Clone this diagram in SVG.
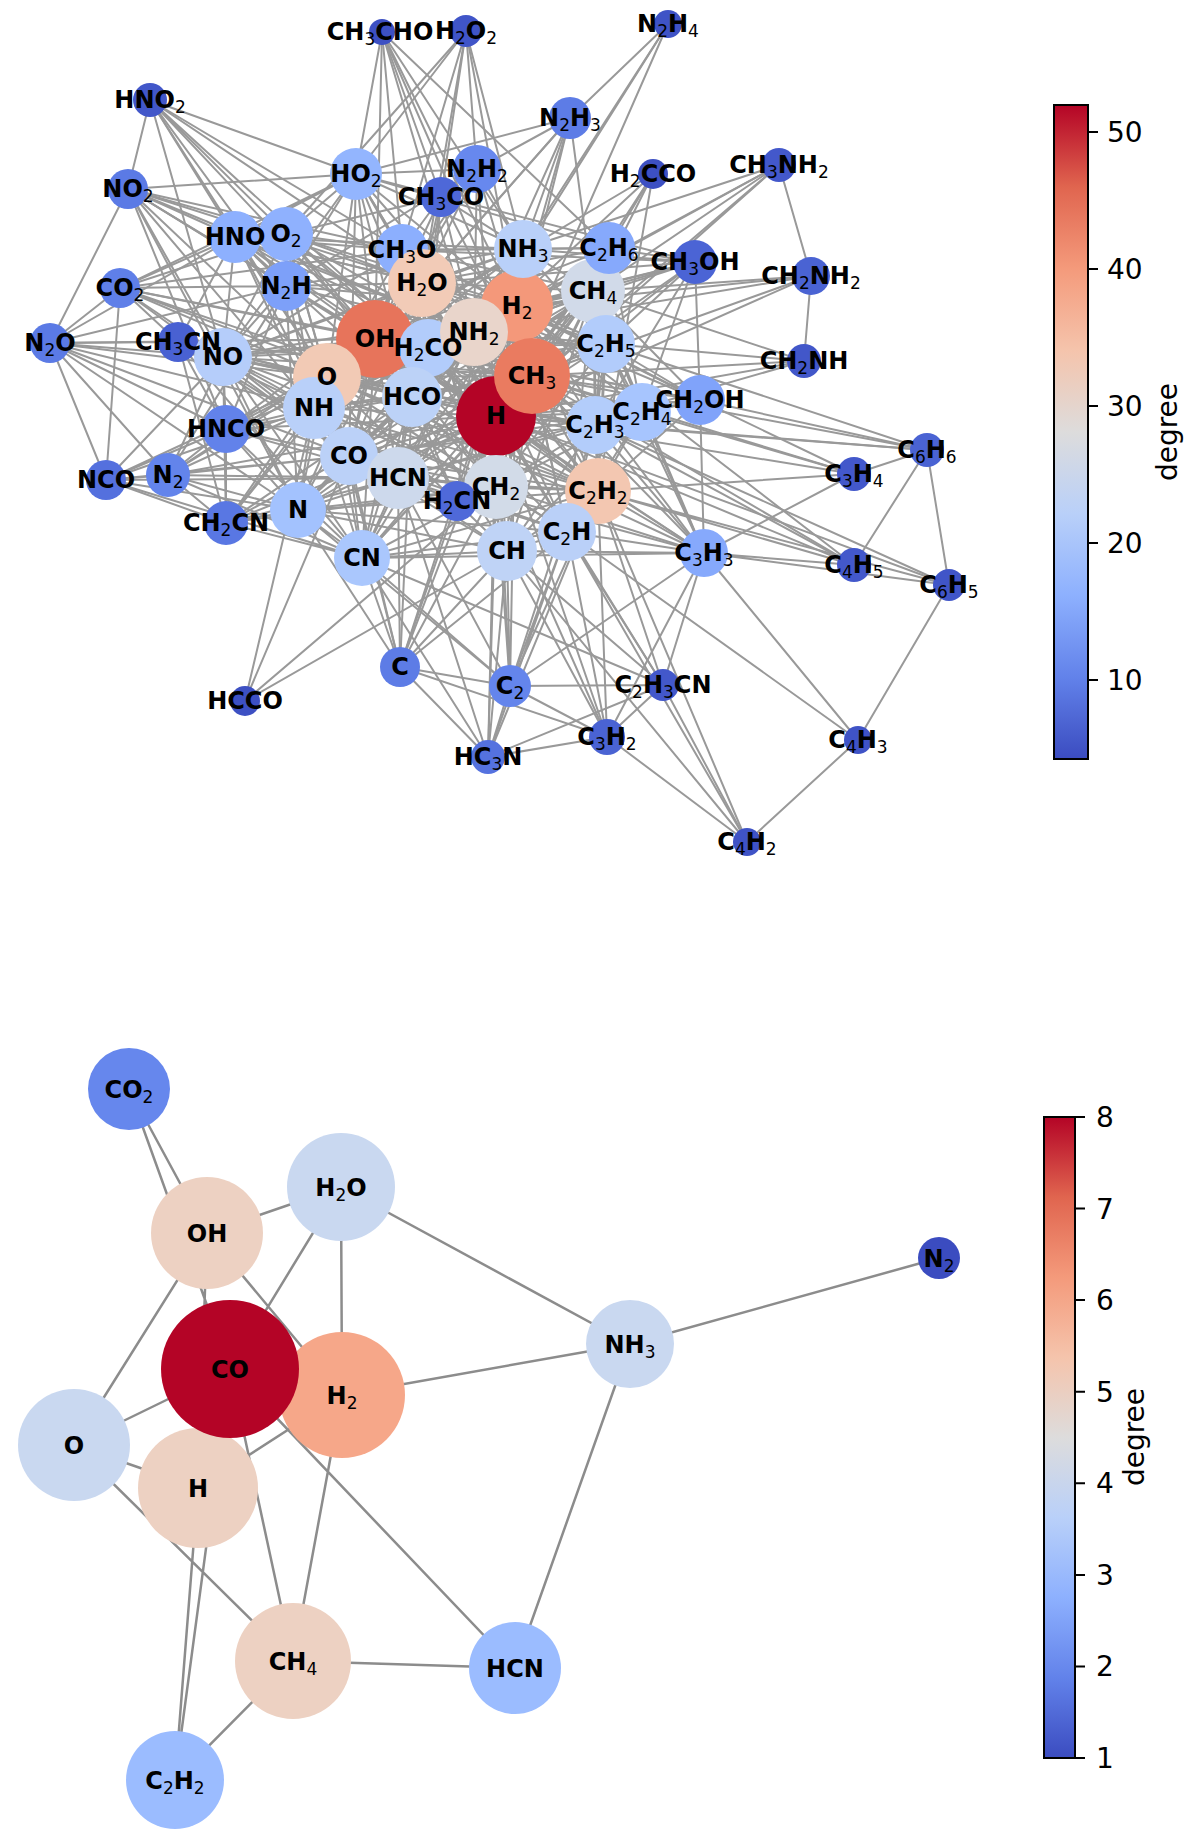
<svg xmlns="http://www.w3.org/2000/svg" width="1200" height="1841" viewBox="0 0 1200 1841">
<defs>
<linearGradient id="cw" x1="0" y1="1" x2="0" y2="0">
<stop offset="0" stop-color="#3b4cc0"/><stop offset="0.125" stop-color="#6282ea"/><stop offset="0.25" stop-color="#8db0fe"/><stop offset="0.375" stop-color="#b9d0f9"/><stop offset="0.5" stop-color="#dddcdc"/><stop offset="0.625" stop-color="#f5c4ac"/><stop offset="0.75" stop-color="#f49a7b"/><stop offset="0.875" stop-color="#e0654f"/><stop offset="1" stop-color="#b40426"/>
</linearGradient>
<style>
.e{stroke:#999;stroke-width:2;fill:none}
.eb{stroke:#8c8c8c;stroke-width:2.5;fill:none}
.lt{font-family:"DejaVu Sans",sans-serif;font-weight:bold;font-size:24px;text-anchor:middle;fill:#000}
.lt .s{font-weight:normal;font-size:17px}
.lb{font-family:"DejaVu Sans",sans-serif;font-weight:bold;font-size:24px;text-anchor:middle;fill:#000}
.lb .s{font-weight:normal;font-size:17px}
.tk{font-family:"DejaVu Sans",sans-serif;font-size:28px;fill:#000}
.cb{stroke:#000;stroke-width:2}
</style>
</defs>
<rect width="1200" height="1841" fill="#fff"/>
<g id="edges-top" class="e">
<path d="M496 416L532 376M496 416L517 306M496 416L474 332M496 416L422 283M496 416L375 339M496 416L428 348M496 416L327 377M496 416L314 408M496 416L412 397M496 416L349 456M496 416L398 478M496 416L496 487M496 416L457 501M496 416L598 491M496 416L567 532M496 416L507 551M496 416L362 558M496 416L298 510M496 416L595 425M496 416L642 412M496 416L700 400M496 416L606 344M496 416L593 291M496 416L609 248M496 416L695 262M496 416L523 249M496 416L402 250M496 416L286 234M496 416L235 237M496 416L286 286M496 416L356 174M496 416L441 197M496 416L477 169M496 416L570 118M496 416L668 24M496 416L466 31M496 416L382 32M496 416L150 100M496 416L128 189M496 416L120 288M496 416L178 342M496 416L223 357M496 416L226 429M496 416L226 523M496 416L653 174M496 416L779 165M496 416L811 276M496 416L804 361M496 416L927 450M496 416L854 474M496 416L704 553M496 416L854 565M496 416L949 585M496 416L400 667M496 416L510 686M496 416L488 757M496 416L663 685M496 416L607 737M496 416L168 475"/>
<path d="M532 376L517 306M532 376L474 332M532 376L422 283M532 376L375 339M532 376L428 348M532 376L327 377M532 376L314 408M532 376L412 397M532 376L349 456M532 376L398 478M532 376L496 487M532 376L598 491M532 376L567 532M532 376L507 551M532 376L595 425M532 376L642 412M532 376L700 400M532 376L606 344M532 376L593 291M532 376L609 248M532 376L695 262M532 376L523 249M532 376L402 250M532 376L356 174M532 376L441 197M532 376L382 32M532 376L223 357M532 376L178 342M532 376L653 174M532 376L779 165M532 376L811 276M532 376L804 361M532 376L927 450M532 376L854 474M532 376L704 553M532 376L854 565M532 376L298 510M532 376L362 558M532 376L286 234M532 376L235 237M532 376L457 501"/>
<path d="M375 339L517 306M375 339L474 332M375 339L422 283M375 339L428 348M375 339L327 377M375 339L314 408M375 339L412 397M375 339L349 456M375 339L398 478M375 339L496 487M375 339L598 491M375 339L567 532M375 339L507 551M375 339L362 558M375 339L298 510M375 339L595 425M375 339L642 412M375 339L700 400M375 339L606 344M375 339L593 291M375 339L609 248M375 339L695 262M375 339L523 249M375 339L402 250M375 339L286 234M375 339L235 237M375 339L286 286M375 339L356 174M375 339L441 197M375 339L477 169M375 339L466 31M375 339L382 32M375 339L150 100M375 339L128 189M375 339L120 288M375 339L50 343M375 339L178 342M375 339L223 357M375 339L226 429M375 339L226 523M375 339L653 174M375 339L704 553M375 339L457 501M375 339L570 118M375 339L168 475"/>
<path d="M517 306L474 332M517 306L422 283M517 306L327 377M517 306L314 408M517 306L412 397M517 306L349 456M517 306L398 478M517 306L496 487M517 306L598 491M517 306L567 532M517 306L507 551M517 306L362 558M517 306L298 510M517 306L595 425M517 306L642 412M517 306L606 344M517 306L593 291M517 306L609 248M517 306L695 262M517 306L523 249M517 306L402 250M517 306L356 174M517 306L286 286M517 306L477 169M517 306L570 118M517 306L466 31M517 306L382 32M517 306L779 165M517 306L811 276M517 306L704 553M517 306L854 565M517 306L400 667M517 306L510 686M517 306L457 501M517 306L286 234M517 306L428 348M517 306L700 400M517 306L235 237M517 306L223 357"/>
<path d="M327 377L422 283M327 377L474 332M327 377L428 348M327 377L314 408M327 377L412 397M327 377L349 456M327 377L398 478M327 377L496 487M327 377L598 491M327 377L567 532M327 377L507 551M327 377L362 558M327 377L298 510M327 377L595 425M327 377L642 412M327 377L606 344M327 377L593 291M327 377L523 249M327 377L402 250M327 377L286 234M327 377L235 237M327 377L286 286M327 377L356 174M327 377L150 100M327 377L128 189M327 377L120 288M327 377L50 343M327 377L178 342M327 377L223 357M327 377L226 429M327 377L106 480M327 377L168 475M327 377L226 523M327 377L400 667M327 377L704 553"/>
<path d="M422 283L474 332M422 283L314 408M422 283L412 397M422 283L349 456M422 283L398 478M422 283L496 487M422 283L598 491M422 283L567 532M422 283L507 551M422 283L362 558M422 283L298 510M422 283L595 425M422 283L606 344M422 283L593 291M422 283L523 249M422 283L402 250M422 283L286 234M422 283L235 237M422 283L286 286M422 283L356 174M422 283L466 31M422 283L150 100M422 283L128 189M422 283L223 357M422 283L226 429M422 283L700 400M422 283L695 262M422 283L609 248M422 283L441 197M422 283L477 169M422 283L428 348"/>
<path d="M474 332L314 408M474 332L412 397M474 332L349 456M474 332L398 478M474 332L496 487M474 332L598 491M474 332L507 551M474 332L362 558M474 332L298 510M474 332L523 249M474 332L286 286M474 332L477 169M474 332L570 118M474 332L668 24M474 332L235 237M474 332L223 357M474 332L226 429M474 332L457 501M474 332L779 165M474 332L811 276M474 332L804 361M474 332L402 250M474 332L128 189M474 332L595 425M474 332L606 344M474 332L593 291M474 332L428 348M474 332L567 532"/>
<path d="M598 491L567 532M598 491L507 551M598 491L496 487M598 491L595 425M598 491L642 412M598 491L606 344M598 491L593 291M598 491L704 553M598 491L854 474M598 491L854 565M598 491L949 585M598 491L747 842M598 491L510 686M598 491L607 737M598 491L488 757M598 491L663 685M598 491L398 478M598 491L362 558M598 491L349 456M598 491L412 397M598 491L428 348M598 491L314 408M598 491L298 510M598 491L653 174M598 491L700 400M598 491L609 248"/>
<path d="M593 291L496 487M593 291L606 344M593 291L609 248M593 291L595 425M593 291L642 412M593 291L695 262M593 291L700 400M593 291L402 250M593 291L428 348M593 291L412 397M593 291L523 249M593 291L398 478M593 291L779 165M593 291L811 276M593 291L804 361M593 291L567 532M593 291L507 551M593 291L362 558M593 291L298 510M593 291L314 408M593 291L349 456M593 291L570 118M593 291L704 553"/>
<path d="M496 487L507 551M496 487L567 532M496 487L595 425M496 487L642 412M496 487L606 344M496 487L412 397M496 487L349 456M496 487L398 478M496 487L457 501M496 487L362 558M496 487L298 510M496 487L314 408M496 487L400 667M496 487L510 686M496 487L704 553M496 487L607 737M496 487L488 757M496 487L653 174M496 487L245 701M496 487L226 523M496 487L402 250M496 487L428 348"/>
<path d="M398 478L362 558M398 478L298 510M398 478L314 408M398 478L349 456M398 478L412 397M398 478L457 501M398 478L507 551M398 478L567 532M398 478L226 429M398 478L106 480M398 478L226 523M398 478L178 342M398 478L400 667M398 478L510 686M398 478L488 757M398 478L804 361M398 478L223 357M398 478L168 475M398 478L595 425"/>
<path d="M349 456L412 397M349 456L428 348M349 456L314 408M349 456L298 510M349 456L362 558M349 456L223 357M349 456L226 429M349 456L106 480M349 456L120 288M349 456L50 343M349 456L168 475M349 456L507 551M349 456L400 667M349 456L245 701M349 456L226 523M349 456L178 342M349 456L402 250M349 456L286 234M349 456L356 174M349 456L235 237M349 456L567 532M349 456L595 425M349 456L642 412M349 456L653 174M349 456L704 553"/>
<path d="M223 357L50 343M223 357L128 189M223 357L235 237M223 357L150 100M223 357L356 174M223 357L286 234M223 357L168 475M223 357L286 286M223 357L314 408M223 357L298 510M223 357L362 558M223 357L106 480M223 357L226 429M223 357L178 342M223 357L412 397M223 357L428 348M223 357L402 250M223 357L226 523M223 357L523 249M223 357L120 288M223 357L598 491M223 357L496 487M223 357L595 425"/>
<path d="M298 510L168 475M298 510L314 408M298 510L362 558M298 510L106 480M298 510L226 429M298 510L50 343M298 510L400 667M298 510L510 686M298 510L507 551M298 510L226 523M298 510L286 286M298 510L128 189M298 510L567 532"/>
<path d="M362 558L400 667M362 558L510 686M362 558L488 757M362 558L663 685M362 558L226 523M362 558L106 480M362 558L168 475M362 558L226 429M362 558L507 551M362 558L567 532M362 558L178 342M362 558L704 553"/>
<path d="M507 551L400 667M507 551L510 686M507 551L567 532M507 551L488 757M507 551L607 737M507 551L704 553M507 551L747 842M507 551L663 685M507 551L245 701M507 551L595 425M507 551L642 412"/>
<path d="M567 532L510 686M567 532L607 737M567 532L704 553M567 532L488 757M567 532L747 842M567 532L858 740M567 532L595 425M567 532L642 412M567 532L663 685M567 532L400 667"/>
<path d="M595 425L704 553M595 425L854 565M595 425L927 450M595 425L949 585M595 425L700 400M595 425L609 248M595 425L695 262M595 425L642 412M595 425L606 344M595 425L510 686"/>
<path d="M642 412L704 553M642 412L854 474M642 412L700 400M642 412L609 248M642 412L695 262M642 412L606 344"/>
<path d="M606 344L704 553M606 344L927 450M606 344L700 400M606 344L609 248M606 344L695 262M606 344L523 249"/>
<path d="M314 408L168 475M314 408L286 286M314 408L235 237M314 408L128 189M314 408L50 343M314 408L106 480M314 408L226 429M314 408L523 249M314 408L477 169M314 408L226 523M314 408L362 558M314 408L178 342M314 408L412 397M314 408L286 234M314 408L570 118M314 408L245 701"/>
<path d="M523 249L570 118M523 249L668 24M523 249L477 169M523 249L286 286M523 249L235 237M523 249L779 165M523 249L412 397M523 249L402 250M523 249L441 197M523 249L356 174M523 249L466 31M523 249L382 32M523 249L609 248M523 249L428 348M523 249L695 262"/>
<path d="M412 397L428 348M412 397L402 250M412 397L441 197M412 397L356 174M412 397L286 234M412 397L235 237M412 397L226 429M412 397L226 523M412 397L298 510M412 397L362 558M412 397L400 667M412 397L120 288M412 397L457 501M412 397L595 425"/>
<path d="M428 348L402 250M428 348L356 174M428 348L286 234M428 348L441 197M428 348L700 400M428 348L695 262M428 348L120 288M428 348L235 237M428 348L606 344"/>
<path d="M356 174L382 32M356 174L466 31M356 174L150 100M356 174L128 189M356 174L286 234M356 174L235 237M356 174L402 250M356 174L441 197M356 174L286 286M356 174L477 169M356 174L120 288M356 174L570 118M356 174L695 262M356 174L609 248"/>
<path d="M286 234L235 237M286 234L150 100M286 234L128 189M286 234L120 288M286 234L286 286M286 234L402 250M286 234L441 197M286 234L466 31"/>
<path d="M235 237L150 100M235 237L128 189M235 237L286 286M235 237L50 343M235 237L178 342M235 237L120 288M235 237L402 250"/>
<path d="M286 286L477 169M286 286L168 475M286 286L128 189M286 286L50 343M286 286L120 288M286 286L226 429M286 286L150 100"/>
<path d="M402 250L382 32M402 250L441 197M402 250L700 400M402 250L695 262M402 250L120 288M402 250L128 189M402 250L150 100M402 250L609 248"/>
<path d="M441 197L382 32M441 197L466 31M477 169L570 118M570 118L668 24M382 32L609 248"/>
<path d="M50 343L120 288M50 343L128 189M50 343L106 480M50 343L168 475M50 343L226 429M50 343L178 342M106 480L120 288M106 480L168 475M106 480L226 429M106 480L226 523M120 288L178 342M178 342L226 429M178 342L226 523M226 429L168 475M226 429L226 523M168 475L226 523"/>
<path d="M400 667L510 686M400 667L488 757M400 667L607 737M400 667L457 501M510 686L488 757M510 686L607 737M510 686L663 685M510 686L704 553M488 757L607 737M488 757L663 685M607 737L747 842M607 737L663 685M607 737L704 553M663 685L747 842M663 685L704 553M858 740L747 842M858 740L949 585M858 740L704 553"/>
<path d="M704 553L854 565M704 553L854 474M704 553L949 585M704 553L700 400M927 450L949 585M927 450L854 474M927 450L854 565M927 450L700 400M811 276L779 165M811 276L804 361M695 262L700 400M695 262L609 248M700 400L854 474M150 100L128 189M128 189L226 429"/>
</g>
<g id="nodes-top">
<g id="n-HNO2"><circle cx="150" cy="100" r="17" fill="#4257c9"/></g>
<g id="n-NO2"><circle cx="128" cy="189" r="20" fill="#5b7ae5"/></g>
<g id="n-CO2"><circle cx="120" cy="288" r="20" fill="#5f7fe8"/></g>
<g id="n-N2O"><circle cx="50" cy="343" r="20" fill="#5b7ae5"/></g>
<g id="n-NCO"><circle cx="106" cy="480" r="20" fill="#5470de"/></g>
<g id="n-N2"><circle cx="168" cy="475" r="22" fill="#6384eb"/></g>
<g id="n-HNCO"><circle cx="226" cy="429" r="24" fill="#6282ea"/></g>
<g id="n-CH2CN"><circle cx="226" cy="523" r="22" fill="#5977e3"/></g>
<g id="n-HCCO"><circle cx="245" cy="701" r="15" fill="#3d50c3"/></g>
<g id="n-C"><circle cx="400" cy="667" r="20" fill="#5d7ce6"/></g>
<g id="n-C2"><circle cx="510" cy="686" r="21" fill="#6485ec"/></g>
<g id="n-HC3N"><circle cx="488" cy="757" r="17" fill="#5572df"/></g>
<g id="n-C3H2"><circle cx="607" cy="737" r="18" fill="#4a63d3"/></g>
<g id="n-C2H3CN"><circle cx="663" cy="685" r="16" fill="#4358cb"/></g>
<g id="n-C4H2"><circle cx="747" cy="842" r="14" fill="#3f53c6"/></g>
<g id="n-C4H3"><circle cx="858" cy="740" r="14" fill="#3f53c6"/></g>
<g id="n-C6H5"><circle cx="949" cy="585" r="16" fill="#4055c8"/></g>
<g id="n-C4H5"><circle cx="854" cy="565" r="17" fill="#4358cb"/></g>
<g id="n-C3H3"><circle cx="704" cy="553" r="24" fill="#86a9fc"/></g>
<g id="n-C3H4"><circle cx="854" cy="474" r="17" fill="#4358cb"/></g>
<g id="n-C6H6"><circle cx="927" cy="450" r="17" fill="#4a63d3"/></g>
<g id="n-CH2NH"><circle cx="804" cy="361" r="17" fill="#4257c9"/></g>
<g id="n-CH2NH2"><circle cx="811" cy="276" r="19" fill="#4a63d3"/></g>
<g id="n-CH3NH2"><circle cx="779" cy="165" r="17" fill="#4358cb"/></g>
<g id="n-CH3OH"><circle cx="695" cy="262" r="22" fill="#4b64d5"/></g>
<g id="n-H2CCO"><circle cx="653" cy="174" r="15" fill="#3d50c3"/></g>
<g id="n-N2H4"><circle cx="668" cy="24" r="14" fill="#3f53c6"/></g>
<g id="n-N2H3"><circle cx="570" cy="118" r="21" fill="#5d7ce6"/></g>
<g id="n-CH3CHO"><circle cx="382" cy="32" r="13" fill="#3d50c3"/></g>
<g id="n-H2O2"><circle cx="466" cy="31" r="16" fill="#4055c8"/></g>
<g id="n-HO2"><circle cx="356" cy="174" r="26" fill="#93b5fe"/></g>
<g id="n-N2H2"><circle cx="477" cy="169" r="24" fill="#6788ee"/></g>
<g id="n-CH3CO"><circle cx="441" cy="197" r="20" fill="#4e68d8"/></g>
<g id="n-CH3CN"><circle cx="178" cy="342" r="20" fill="#4961d2"/></g>
<g id="n-NO"><circle cx="223" cy="357" r="29" fill="#b5cdfa"/></g>
<g id="n-HNO"><circle cx="235" cy="237" r="26" fill="#8db0fe"/></g>
<g id="n-O2"><circle cx="286" cy="234" r="27" fill="#8fb1fe"/></g>
<g id="n-N2H"><circle cx="286" cy="286" r="25" fill="#7da0f9"/></g>
<g id="n-CH3O"><circle cx="402" cy="250" r="26" fill="#8caffe"/></g>
<g id="n-OH"><circle cx="375" cy="339" r="39" fill="#e7745b"/></g>
<g id="n-H2"><circle cx="517" cy="306" r="36" fill="#f4987a"/></g>
<g id="n-H"><circle cx="496" cy="416" r="40" fill="#b40426"/></g>
<g id="n-CH4"><circle cx="593" cy="291" r="32" fill="#d1dae9"/></g>
<g id="n-C2H6"><circle cx="609" cy="248" r="26" fill="#86a9fc"/></g>
<g id="n-NH3"><circle cx="523" cy="249" r="29" fill="#b9d0f9"/></g>
<g id="n-C2H5"><circle cx="606" cy="344" r="29" fill="#b2ccfb"/></g>
<g id="n-H2O"><circle cx="422" cy="283" r="34" fill="#f2cbb7"/></g>
<g id="n-H2CO"><circle cx="428" cy="348" r="29" fill="#b2ccfb"/></g>
<g id="n-NH2"><circle cx="474" cy="332" r="34" fill="#e9d5cb"/></g>
<g id="n-CH3"><circle cx="532" cy="376" r="38" fill="#ea7b60"/></g>
<g id="n-O"><circle cx="327" cy="377" r="34" fill="#f2cab5"/></g>
<g id="n-NH"><circle cx="314" cy="408" r="31" fill="#b9d0f9"/></g>
<g id="n-N"><circle cx="298" cy="510" r="28" fill="#a3c2fe"/></g>
<g id="n-CN"><circle cx="362" cy="558" r="28" fill="#aac7fd"/></g>
<g id="n-CO"><circle cx="349" cy="456" r="29" fill="#bbd1f8"/></g>
<g id="n-HCO"><circle cx="412" cy="397" r="30" fill="#bcd2f7"/></g>
<g id="n-HCN"><circle cx="398" cy="478" r="31" fill="#cdd9ec"/></g>
<g id="n-CH2"><circle cx="496" cy="487" r="32" fill="#d2dbe8"/></g>
<g id="n-H2CN"><circle cx="457" cy="501" r="20" fill="#4f69d9"/></g>
<g id="n-CH"><circle cx="507" cy="551" r="30" fill="#bfd3f6"/></g>
<g id="n-C2H2"><circle cx="598" cy="491" r="33" fill="#f3c7b1"/></g>
<g id="n-C2H"><circle cx="567" cy="532" r="29" fill="#bad0f8"/></g>
<g id="n-C2H3"><circle cx="595" cy="425" r="29" fill="#b3cdfb"/></g>
<g id="n-C2H4"><circle cx="642" cy="412" r="29" fill="#a7c5fe"/></g>
<g id="n-CH2OH"><circle cx="700" cy="400" r="25" fill="#80a3fa"/></g>
</g>
<g id="labels-top" class="lt">
<text x="150" y="108">HNO<tspan class="s" dy="5">2</tspan></text>
<text x="128" y="197">NO<tspan class="s" dy="5">2</tspan></text>
<text x="120" y="296">CO<tspan class="s" dy="5">2</tspan></text>
<text x="50" y="351">N<tspan class="s" dy="5">2</tspan><tspan dy="-5">O</tspan></text>
<text x="106" y="488">NCO</text>
<text x="168" y="483">N<tspan class="s" dy="5">2</tspan></text>
<text x="226" y="437">HNCO</text>
<text x="226" y="531">CH<tspan class="s" dy="5">2</tspan><tspan dy="-5">CN</tspan></text>
<text x="245" y="709">HCCO</text>
<text x="400" y="675">C</text>
<text x="510" y="694">C<tspan class="s" dy="5">2</tspan></text>
<text x="488" y="765">HC<tspan class="s" dy="5">3</tspan><tspan dy="-5">N</tspan></text>
<text x="607" y="745">C<tspan class="s" dy="5">3</tspan><tspan dy="-5">H</tspan><tspan class="s" dy="5">2</tspan></text>
<text x="663" y="693">C<tspan class="s" dy="5">2</tspan><tspan dy="-5">H</tspan><tspan class="s" dy="5">3</tspan><tspan dy="-5">CN</tspan></text>
<text x="747" y="850">C<tspan class="s" dy="5">4</tspan><tspan dy="-5">H</tspan><tspan class="s" dy="5">2</tspan></text>
<text x="858" y="748">C<tspan class="s" dy="5">4</tspan><tspan dy="-5">H</tspan><tspan class="s" dy="5">3</tspan></text>
<text x="949" y="593">C<tspan class="s" dy="5">6</tspan><tspan dy="-5">H</tspan><tspan class="s" dy="5">5</tspan></text>
<text x="854" y="573">C<tspan class="s" dy="5">4</tspan><tspan dy="-5">H</tspan><tspan class="s" dy="5">5</tspan></text>
<text x="704" y="561">C<tspan class="s" dy="5">3</tspan><tspan dy="-5">H</tspan><tspan class="s" dy="5">3</tspan></text>
<text x="854" y="482">C<tspan class="s" dy="5">3</tspan><tspan dy="-5">H</tspan><tspan class="s" dy="5">4</tspan></text>
<text x="927" y="458">C<tspan class="s" dy="5">6</tspan><tspan dy="-5">H</tspan><tspan class="s" dy="5">6</tspan></text>
<text x="804" y="369">CH<tspan class="s" dy="5">2</tspan><tspan dy="-5">NH</tspan></text>
<text x="811" y="284">CH<tspan class="s" dy="5">2</tspan><tspan dy="-5">NH</tspan><tspan class="s" dy="5">2</tspan></text>
<text x="779" y="173">CH<tspan class="s" dy="5">3</tspan><tspan dy="-5">NH</tspan><tspan class="s" dy="5">2</tspan></text>
<text x="695" y="270">CH<tspan class="s" dy="5">3</tspan><tspan dy="-5">OH</tspan></text>
<text x="653" y="182">H<tspan class="s" dy="5">2</tspan><tspan dy="-5">CCO</tspan></text>
<text x="668" y="32">N<tspan class="s" dy="5">2</tspan><tspan dy="-5">H</tspan><tspan class="s" dy="5">4</tspan></text>
<text x="570" y="126">N<tspan class="s" dy="5">2</tspan><tspan dy="-5">H</tspan><tspan class="s" dy="5">3</tspan></text>
<text x="380" y="40">CH<tspan class="s" dy="5">3</tspan><tspan dy="-5">CHO</tspan></text>
<text x="466" y="39">H<tspan class="s" dy="5">2</tspan><tspan dy="-5">O</tspan><tspan class="s" dy="5">2</tspan></text>
<text x="356" y="182">HO<tspan class="s" dy="5">2</tspan></text>
<text x="477" y="177">N<tspan class="s" dy="5">2</tspan><tspan dy="-5">H</tspan><tspan class="s" dy="5">2</tspan></text>
<text x="441" y="205">CH<tspan class="s" dy="5">3</tspan><tspan dy="-5">CO</tspan></text>
<text x="178" y="350">CH<tspan class="s" dy="5">3</tspan><tspan dy="-5">CN</tspan></text>
<text x="223" y="365">NO</text>
<text x="235" y="245">HNO</text>
<text x="286" y="242">O<tspan class="s" dy="5">2</tspan></text>
<text x="286" y="294">N<tspan class="s" dy="5">2</tspan><tspan dy="-5">H</tspan></text>
<text x="402" y="258">CH<tspan class="s" dy="5">3</tspan><tspan dy="-5">O</tspan></text>
<text x="375" y="347">OH</text>
<text x="517" y="314">H<tspan class="s" dy="5">2</tspan></text>
<text x="496" y="424">H</text>
<text x="593" y="299">CH<tspan class="s" dy="5">4</tspan></text>
<text x="609" y="256">C<tspan class="s" dy="5">2</tspan><tspan dy="-5">H</tspan><tspan class="s" dy="5">6</tspan></text>
<text x="523" y="257">NH<tspan class="s" dy="5">3</tspan></text>
<text x="606" y="352">C<tspan class="s" dy="5">2</tspan><tspan dy="-5">H</tspan><tspan class="s" dy="5">5</tspan></text>
<text x="422" y="291">H<tspan class="s" dy="5">2</tspan><tspan dy="-5">O</tspan></text>
<text x="428" y="356">H<tspan class="s" dy="5">2</tspan><tspan dy="-5">CO</tspan></text>
<text x="474" y="340">NH<tspan class="s" dy="5">2</tspan></text>
<text x="532" y="384">CH<tspan class="s" dy="5">3</tspan></text>
<text x="327" y="385">O</text>
<text x="314" y="416">NH</text>
<text x="298" y="518">N</text>
<text x="362" y="566">CN</text>
<text x="349" y="464">CO</text>
<text x="412" y="405">HCO</text>
<text x="398" y="486">HCN</text>
<text x="496" y="495">CH<tspan class="s" dy="5">2</tspan></text>
<text x="457" y="509">H<tspan class="s" dy="5">2</tspan><tspan dy="-5">CN</tspan></text>
<text x="507" y="559">CH</text>
<text x="598" y="499">C<tspan class="s" dy="5">2</tspan><tspan dy="-5">H</tspan><tspan class="s" dy="5">2</tspan></text>
<text x="567" y="540">C<tspan class="s" dy="5">2</tspan><tspan dy="-5">H</tspan></text>
<text x="595" y="433">C<tspan class="s" dy="5">2</tspan><tspan dy="-5">H</tspan><tspan class="s" dy="5">3</tspan></text>
<text x="642" y="420">C<tspan class="s" dy="5">2</tspan><tspan dy="-5">H</tspan><tspan class="s" dy="5">4</tspan></text>
<text x="700" y="408">CH<tspan class="s" dy="5">2</tspan><tspan dy="-5">OH</tspan></text>
</g>
<g id="colorbar-top">
<rect x="1054" y="105" width="34" height="654" fill="url(#cw)" class="cb"/>
<path class="cb" d="M1088 132H1098M1088 269H1098M1088 406H1098M1088 543H1098M1088 680H1098"/>
<text class="tk" x="1107" y="142">50</text>
<text class="tk" x="1107" y="279">40</text>
<text class="tk" x="1107" y="416">30</text>
<text class="tk" x="1107" y="553">20</text>
<text class="tk" x="1107" y="690">10</text>
<text class="tk" text-anchor="middle" transform="translate(1177 432) rotate(-90)">degree</text>
</g>
<g id="edges-bottom" class="eb">
<path d="M129 1089L207 1233M129 1089L230 1369M207 1233L341 1187M207 1233L74 1445M207 1233L342 1395M207 1233L198 1488M341 1187L230 1369M341 1187L342 1395M341 1187L630 1344M230 1369L74 1445M230 1369L342 1395M230 1369L198 1488M230 1369L293 1661M230 1369L515 1668M230 1369L175 1780M342 1395L198 1488M342 1395L293 1661M342 1395L630 1344M630 1344L939 1258M630 1344L515 1668M293 1661L515 1668M293 1661L175 1780M198 1488L175 1780M74 1445L198 1488M74 1445L293 1661"/>
</g>
<g id="nodes-bottom">
<g id="b-CO2"><circle cx="129" cy="1089" r="41" fill="#6687ed"/></g>
<g id="b-OH"><circle cx="207" cy="1233" r="56" fill="#edd1c2"/></g>
<g id="b-H2O"><circle cx="341" cy="1187" r="54" fill="#c9d8f0"/></g>
<g id="b-NH3"><circle cx="630" cy="1344" r="44" fill="#c9d8f0"/></g>
<g id="b-N2"><circle cx="939" cy="1258" r="21" fill="#3b4cc0"/></g>
<g id="b-O"><circle cx="74" cy="1445" r="56" fill="#c9d8f0"/></g>
<g id="b-H2"><circle cx="342" cy="1395" r="63" fill="#f6a789"/></g>
<g id="b-H"><circle cx="198" cy="1488" r="60" fill="#edd1c2"/></g>
<g id="b-CH4"><circle cx="293" cy="1661" r="58" fill="#edd1c2"/></g>
<g id="b-HCN"><circle cx="515" cy="1668" r="46" fill="#9bbcff"/></g>
<g id="b-C2H2"><circle cx="175" cy="1780" r="49" fill="#9bbcff"/></g>
<g id="b-CO"><circle cx="230" cy="1369" r="69" fill="#b40426"/></g>
</g>
<g id="labels-bottom" class="lb">
<text x="129" y="1098">CO<tspan class="s" dy="5">2</tspan></text>
<text x="207" y="1242">OH</text>
<text x="341" y="1196">H<tspan class="s" dy="5">2</tspan><tspan dy="-5">O</tspan></text>
<text x="630" y="1353">NH<tspan class="s" dy="5">3</tspan></text>
<text x="939" y="1267">N<tspan class="s" dy="5">2</tspan></text>
<text x="74" y="1454">O</text>
<text x="342" y="1404">H<tspan class="s" dy="5">2</tspan></text>
<text x="198" y="1497">H</text>
<text x="293" y="1670">CH<tspan class="s" dy="5">4</tspan></text>
<text x="515" y="1677">HCN</text>
<text x="175" y="1789">C<tspan class="s" dy="5">2</tspan><tspan dy="-5">H</tspan><tspan class="s" dy="5">2</tspan></text>
<text x="230" y="1378">CO</text>
</g>
<g id="colorbar-bottom">
<rect x="1044" y="1117" width="31" height="641" fill="url(#cw)" class="cb"/>
<path class="cb" d="M1075 1117H1085M1075 1208.6H1085M1075 1300.1H1085M1075 1391.7H1085M1075 1483.3H1085M1075 1574.9H1085M1075 1666.4H1085M1075 1758H1085"/>
<text class="tk" x="1096" y="1127">8</text>
<text class="tk" x="1096" y="1219">7</text>
<text class="tk" x="1096" y="1310">6</text>
<text class="tk" x="1096" y="1402">5</text>
<text class="tk" x="1096" y="1493">4</text>
<text class="tk" x="1096" y="1585">3</text>
<text class="tk" x="1096" y="1676">2</text>
<text class="tk" x="1096" y="1768">1</text>
<text class="tk" text-anchor="middle" transform="translate(1144 1437) rotate(-90)">degree</text>
</g>
</svg>
